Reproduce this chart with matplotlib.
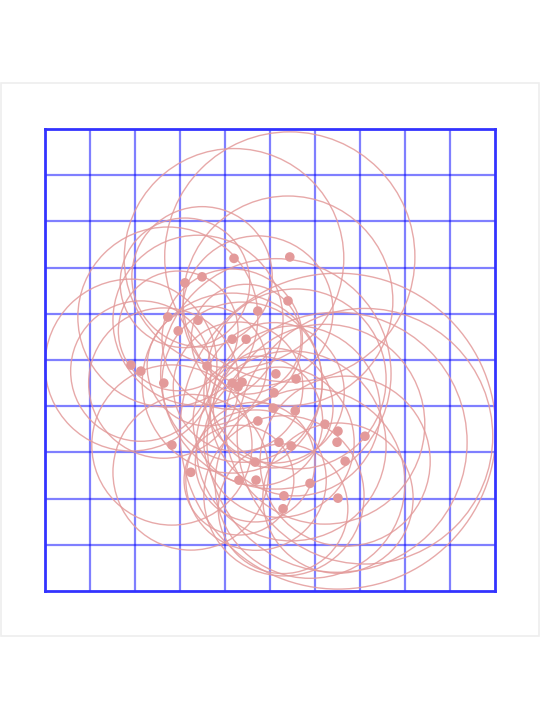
"""
Scatter of points with a ring around each one, on a 10 x 10 blue grid.
"""

import numpy as np
import matplotlib
matplotlib.use("Agg")
import matplotlib.pyplot as plt
from matplotlib.patches import Rectangle

# point positions (grid units, 0..10 both ways)
xs = [4.2, 5.44, 3.49, 3.11, 5.4, 4.73, 2.73, 3.4, 2.96, 4.16,
      4.47, 1.91, 2.13, 3.6, 2.64, 4.16, 4.38, 4.29, 5.13, 5.58,
      5.09, 5.07, 5.56, 4.73, 6.22, 6.51, 6.49, 7.11, 5.2, 5.47,
      2.82, 4.67, 6.67, 3.24, 4.31, 4.69, 5.89, 5.31, 6.51, 5.29]
ys = [7.2, 7.23, 6.8, 6.67, 6.28, 6.06, 5.93, 5.86, 5.63, 5.45,
      5.45, 4.89, 4.76, 4.87, 4.5, 4.5, 4.52, 4.42, 4.7, 4.59,
      4.29, 3.96, 3.9, 3.68, 3.61, 3.46, 3.22, 3.35, 3.22, 3.14,
      3.16, 2.79, 2.81, 2.57, 2.4, 2.4, 2.33, 2.06, 2.01, 1.78]
# ring radius around each point (grid x units)
reach = [2.44, 2.78, 1.56, 1.44, 2.33, 1.67, 2.0, 1.89, 1.33, 1.56,
         1.22, 1.91, 1.56, 1.33, 1.67, 2.0, 1.78, 1.44, 2.56, 2.0,
         1.56, 1.33, 1.89, 1.44, 2.22, 3.51, 2.89, 2.84, 1.67, 2.11,
         1.78, 1.33, 1.89, 1.73, 1.22, 1.56, 2.11, 1.78, 1.67, 1.44]

DPI = 100
PINK = '#e39a9a'

fig = plt.figure(figsize=(5.4, 7.2), dpi=DPI)
fig.patches.append(Rectangle((1 / 540, 84 / 720), 538 / 540, 553 / 720,
                             transform=fig.transFigure, fill=False,
                             edgecolor='#eeeeee', linewidth=1.2))

ax = fig.add_axes([45 / 540, 129 / 720, 450 / 540, 462 / 720])
ax.set_xlim(0, 10)
ax.set_ylim(0, 10)

# grid
for v in range(1, 10):
    ax.axvline(v, color='#0000ff', alpha=0.5, linewidth=1.6, zorder=1)
    ax.axhline(v, color='#0000ff', alpha=0.5, linewidth=1.6, zorder=1)
for s in ax.spines.values():
    s.set_color('#3333ff')
    s.set_linewidth(2)
ax.set_xticks([])
ax.set_yticks([])

# ring size: grid units -> pixels -> points
px_per_unit = 450 / 10
ring_pts = [(2 * r * px_per_unit * 72 / DPI) ** 2 for r in reach]

ax.scatter(xs, ys, s=ring_pts, facecolors='none', edgecolors=PINK,
           linewidths=1.0, alpha=0.85, zorder=2, clip_on=False)
ax.scatter(xs, ys, s=48, color=PINK, edgecolors='none', zorder=3)

fig.savefig('out.png', dpi=DPI)
